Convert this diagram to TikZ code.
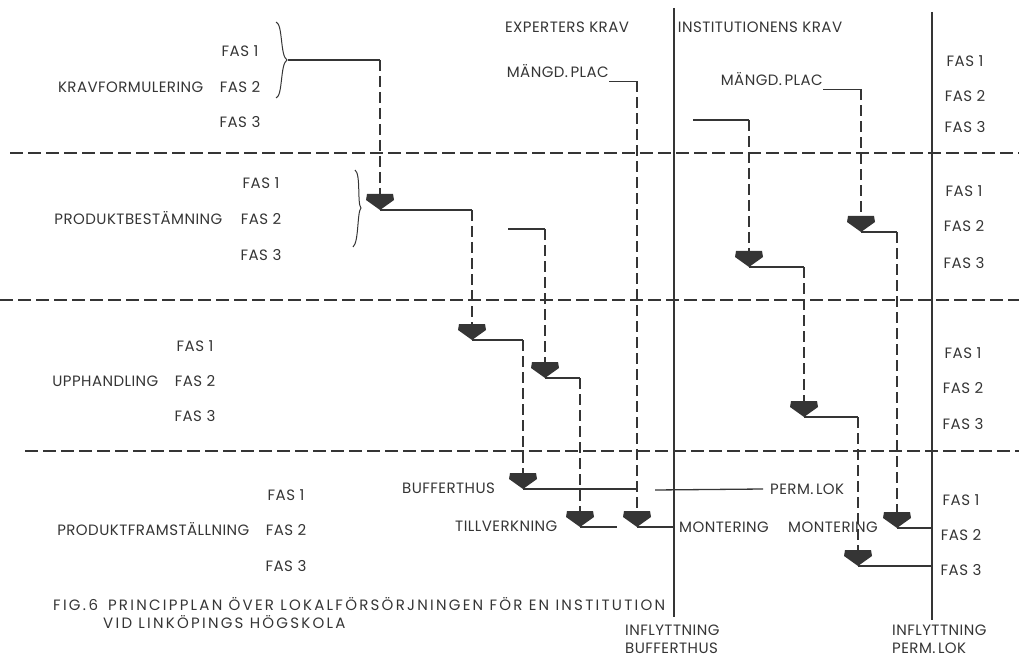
\documentclass[tikz,border=0pt]{standalone}
\usepackage{fontspec}
\setmainfont{Poppins}[LetterSpace=3]
\usetikzlibrary{positioning}

\definecolor{bläck}{HTML}{353535}

\tikzset{
  txt/.style={inner sep=0pt, text height=10pt, text depth=0pt, text=bläck,
    font=\fontsize{15}{17}\selectfont},
  rubrik/.style={txt, font=\fontsize{15}{17}\selectfont\addfontfeatures{LetterSpace=15}},
  linje/.style={draw=bläck, line width=1.3pt},
  streck/.style={draw=bläck, line width=1.2pt, dash pattern=on 11pt off 5pt},
  gräns/.style={draw=bläck, line width=1.2pt, dash pattern=on 13pt off 5pt},
  pics/nedpil/.style={code={
    \fill[bläck] (0,0) -- (-14pt,10pt) -- (-13pt,16pt) -- (13pt,16pt) -- (14pt,10pt) -- cycle;
  }}
}

\begin{document}
\begin{tikzpicture}[x=1pt,y=-1pt]
\useasboundingbox (0,0) rectangle (1019,660);

% faser till vanster
\node[txt] (k1) at (240,52) {FAS 1};
\node[txt] (k2) at (240,88) {FAS 2};
\node[txt] (k3) at (240,123) {FAS 3};
\node[txt, left=16pt of k2] (krav) {KRAVFORMULERING};

\node[txt] (p1) at (261,184) {FAS 1};
\node[txt] (p2) at (261,220) {FAS 2};
\node[txt] (p3) at (261,256) {FAS 3};
\node[txt, left=18pt of p2] (prod) {PRODUKTBESTÄMNING};

\node[txt] (u1) at (195,346) {FAS 1};
\node[txt] (u2) at (195,381) {FAS 2};
\node[txt] (u3) at (195,416) {FAS 3};
\node[txt, left=16pt of u2] (upph) {UPPHANDLING};

\node[txt] (f1) at (286,495) {FAS 1};
\node[txt] (f2) at (286,530) {FAS 2};
\node[txt] (f3) at (286,566) {FAS 3};
\node[txt, left=16pt of f2] (framst) {PRODUKTFRAMSTÄLLNING};

% faser till hoger
\node[txt] (hk1) at (965,62) {FAS 1};
\node[txt] (hk2) at (965,97) {FAS 2};
\node[txt] (hk3) at (965,128) {FAS 3};
\node[txt] (hp1) at (964,192) {FAS 1};
\node[txt] (hp2) at (964,227) {FAS 2};
\node[txt] (hp3) at (964,263) {FAS 3};
\node[txt] (hu1) at (963,353) {FAS 1};
\node[txt] (hu2) at (963,388) {FAS 2};
\node[txt] (hu3) at (963,424) {FAS 3};
\node[txt] (hf1) at (961,500) {FAS 1};
\node[txt] (hf2) at (961,535) {FAS 2};
\node[txt] (hf3) at (961,570) {FAS 3};

% rubriker
\node[txt] (expkrav) at (567,28) {EXPERTERS KRAV};
\node[txt] (instkrav) at (760,28) {INSTITUTIONENS KRAV};
\node[txt, anchor=east] (mpE) at (609,73) {MÄNGD.\,PLAC};
\node[txt, anchor=east] (mpI) at (823,81) {MÄNGD.\,PLAC};

\node[txt, anchor=west] (buffer) at (402,488) {BUFFERTHUS};
\node[txt, anchor=west] (tillv) at (455,526) {TILLVERKNING};
\node[txt, anchor=west] (permlok) at (770,489) {PERM.\,LOK};
\node[txt, anchor=west] (mont1) at (679,527) {MONTERING};
\node[txt, anchor=west] (mont2) at (788,527) {MONTERING};

\node[txt, anchor=west] (inflB) at (625,630) {INFLYTTNING};
\node[txt, anchor=west] (infbuf) at (625,648) {BUFFERTHUS};
\node[txt, anchor=west] (inflP) at (892,630) {INFLYTTNING};
\node[txt, anchor=west] (infperm) at (892,648) {PERM.\,LOK};

\node[rubrik, anchor=west] (fig) at (53,605)
  {FIG.\,6\hspace{10pt}PRINCIPPLAN ÖVER LOKALFÖRSÖRJNINGEN FÖR EN INSTITUTION};
\node[rubrik, anchor=west] (fig2) at (103,623) {VID LINKÖPINGS HÖGSKOLA};

% granslinjer
\coordinate (g1a) at (10,153);  \coordinate (g1b) at (1019,153);
\coordinate (g2a) at (0,300);   \coordinate (g2b) at (1019,300);
\coordinate (g3a) at (25,451);  \coordinate (g3b) at (1019,451);
\draw[gräns] (g1a) -- (g1b);
\draw[gräns] (g2a) -- (g2b);
\draw[gräns] (g3a) -- (g3b);

\coordinate (bufTop) at (674,8);   \coordinate (bufBot) at (674,617);
\coordinate (permTop) at (932,12); \coordinate (permBot) at (932,620);
\draw[linje] (bufTop) -- (bufBot);
\draw[linje] (permTop) -- (permBot);

% klammer
\draw[bläck, line width=1pt] (276,22) .. controls (283,24) and (280,56) .. (287,60)
  .. controls (280,64) and (283,96) .. (276,98);
\draw[bläck, line width=1pt] (355,170) .. controls (361,174) and (357,204) .. (361,208)
  .. controls (357,212) and (359,242) .. (353,247);
\coordinate (kbr) at (288,60);

% pilspetsar
\coordinate (pA1) at (380,210);
\coordinate (pA2) at (472,340);
\coordinate (pA3) at (523,489);
\coordinate (pB1) at (545,378);
\coordinate (pB2) at (580,527);
\coordinate (pC1) at (637,527);
\coordinate (pD1) at (749,267);
\coordinate (pD2) at (804,417);
\coordinate (pD3) at (858,566);
\coordinate (pE1) at (861,232);
\coordinate (pE2) at (897,528);

\coordinate (sB) at (508,229);
\coordinate (sD) at (693,120);
\coordinate (eB) at (617,527);

% kedja A
\draw[linje] (kbr) -- (kbr -| pA1);
\draw[streck] (kbr -| pA1) -- ([yshift=15pt]pA1);
\draw[linje] (pA1) -- (pA1 -| pA2);
\draw[streck] (pA1 -| pA2) -- ([yshift=15pt]pA2);
\draw[linje] (pA2) -- (pA2 -| pA3);
\draw[streck] (pA2 -| pA3) -- ([yshift=15pt]pA3);
\draw[linje] (pA3) -- (pA3 -| pC1);
% kedja B
\draw[linje] (sB) -- (sB -| pB1);
\draw[streck] (sB -| pB1) -- ([yshift=15pt]pB1);
\draw[linje] (pB1) -- (pB1 -| pB2);
\draw[streck] (pB1 -| pB2) -- ([yshift=15pt]pB2);
\draw[linje] (pB2) -- (eB);
% kedja C
\draw[linje] ([yshift=-3pt]mpE.south east) -- ([yshift=-3pt]mpE.south east -| pC1);
\draw[streck] ([yshift=-3pt]mpE.south east -| pC1) -- ([yshift=15pt]pC1);
\draw[linje] (pC1) -- (pC1 -| bufTop);
% kedja D
\draw[linje] (sD) -- (sD -| pD1);
\draw[streck] (sD -| pD1) -- ([yshift=15pt]pD1);
\draw[linje] (pD1) -- (pD1 -| pD2);
\draw[streck] (pD1 -| pD2) -- ([yshift=15pt]pD2);
\draw[linje] (pD2) -- (pD2 -| pD3);
\draw[streck] (pD2 -| pD3) -- ([yshift=15pt]pD3);
\draw[linje] (pD3) -- (pD3 -| permTop);
% kedja E
\draw[linje] ([yshift=-3pt]mpI.south east) -- ([yshift=-3pt]mpI.south east -| pE1);
\draw[streck] ([yshift=-3pt]mpI.south east -| pE1) -- ([yshift=15pt]pE1);
\draw[linje] (pE1) -- (pE1 -| pE2);
\draw[streck] (pE1 -| pE2) -- ([yshift=15pt]pE2);
\draw[linje] (pE2) -- (pE2 -| permTop);
% perm. lok
\coordinate (plStart) at (655,490);
\draw[linje] (plStart) -- ([xshift=-7pt]permlok.west);

\foreach \p in {pA1,pA2,pA3,pB1,pB2,pC1,pD1,pD2,pD3,pE1,pE2}
  \pic at (\p) {nedpil};

\end{tikzpicture}
\end{document}
